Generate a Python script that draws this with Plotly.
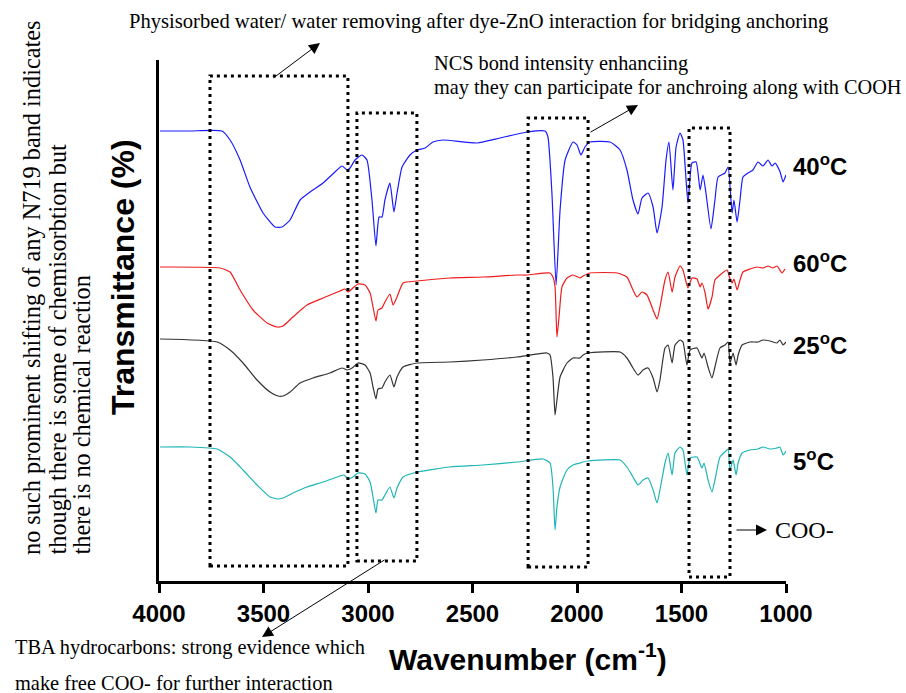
import plotly.graph_objects as go

# ---------------- data ----------------
wn_40 = [3995,3852,3699,3660,3612,3565,3502,3445,3411,3373,3325,3277,3215,3148,3124,3100,3086,3062,3029,3005,
         2981,2962,2947,2933,2919,2895,2876,2861,2837,2799,2765,2727,2689,2641,2478,2368,2239,2153,2139,2120,
         2100,2081,2057,2019,2000,1981,1962,1938,1842,1794,1761,1732,1708,1689,1660,1636,1617,1593,1574,1560,
         1541,1526,1507,1493,1469,1450,1430,1411,1397,1383,1359,1340,1325,1292,1277,1258,1249,1234,1220,1206,
         1182,1158,1134,1110,1086,1067,1052,1028,1014,1000]
t_40 = [450,450,450,441,421,394,368,354,354,361,381,389,398,411,415,411,413,421,426,421,
        381,335,364,364,381,398,369,388,414,426,431,433,439,441,438,443,449,450,444,388,
        296,371,421,439,436,426,434,439,439,431,411,381,367,383,388,374,348,374,421,439,
        391,434,448,441,378,418,419,391,406,388,352,381,404,408,414,368,381,359,381,404,
        408,411,419,415,421,415,418,409,399,406]

wn_60 = [3995,3708,3660,3612,3550,3483,3435,3407,3359,3292,3215,3134,3110,3096,3072,3048,3014,2990,2976,2962,
         2952,2933,2919,2895,2880,2861,2832,2765,2608,2450,2287,2239,2129,2115,2105,2096,2086,2072,2048,2019,
         1986,1971,1938,1808,1761,1732,1713,1689,1665,1636,1617,1603,1579,1564,1545,1531,1507,1493,1469,1450,
         1426,1411,1402,1387,1373,1354,1340,1316,1282,1268,1258,1249,1234,1220,1206,1172,1139,1110,1086,1062,
         1043,1019,1005]
t_60 = [314,313,309,291,271,258,254,255,264,276,283,290,292,289,293,297,296,288,274,260,
        271,273,279,287,276,284,298,300,303,304,306,306,308,304,294,244,264,294,303,306,
        303,305,308,308,304,291,284,289,286,271,262,274,301,309,289,304,315,311,293,303,
        302,294,298,288,272,284,301,306,311,302,298,302,291,301,309,312,314,313,315,313,
        315,308,312]

wn_25 = [3995,3722,3660,3598,3531,3469,3431,3407,3373,3325,3263,3182,3124,3100,3076,3048,3014,2990,2976,2962,
         2952,2933,2919,2895,2876,2861,2832,2765,2608,2450,2287,2144,2129,2115,2105,2096,2081,2048,2019,1986,
         1971,1947,1794,1761,1732,1708,1684,1660,1636,1617,1603,1579,1564,1545,1531,1507,1493,1474,1459,1426,
         1402,1392,1373,1354,1340,1316,1292,1277,1268,1253,1239,1229,1210,1172,1134,1110,1077,1043,1029,1014,
         1000]
t_25 = [242,239,231,218,201,189,185,185,189,198,203,208,213,211,213,218,216,208,194,182,
        192,193,199,206,194,204,214,218,219,221,224,228,226,204,166,181,204,218,223,223,
        226,228,229,223,213,206,211,213,203,189,201,233,236,218,236,241,239,216,231,233,
        223,228,214,203,214,233,236,239,218,228,216,226,236,239,239,241,240,238,241,236,
        239]

wn_5 = [3995,3852,3722,3660,3598,3531,3469,3431,3407,3359,3292,3215,3134,3115,3096,3072,3048,3014,2990,2976,
        2962,2952,2933,2919,2895,2876,2861,2832,2765,2608,2450,2287,2163,2129,2115,2105,2096,2081,2048,2019,
        1986,1971,1947,1794,1761,1732,1708,1684,1660,1636,1617,1603,1579,1564,1545,1531,1507,1493,1474,1459,
        1426,1402,1392,1373,1354,1340,1316,1292,1277,1268,1253,1239,1229,1210,1172,1134,1110,1077,1043,1029,
        1014,1000]
t_5 = [134,134,132,124,111,96,84,82,83,88,94,99,105,106,102,104,108,107,99,84,
       68,81,81,86,94,83,93,104,109,114,116,119,122,118,94,51,74,94,111,116,
       118,119,120,121,114,104,96,101,103,91,78,91,118,128,106,128,134,131,106,123,
       124,113,118,101,89,101,124,129,132,111,121,106,118,128,131,132,134,132,133,134,
       126,130]

series_names = ["40<sup>o</sup>C", "60<sup>o</sup>C", "25<sup>o</sup>C", "5<sup>o</sup>C"]
series_wn = [wn_40, wn_60, wn_25, wn_5]
series_t = [t_40, t_60, t_25, t_5]
series_colors = ["#1a1aff", "#f01c1c", "#333333", "#1fb5b5"]

# highlighted wavenumber windows (dotted boxes)
box_x0 = [3756, 3053, 2234, 1464]
box_x1 = [3096, 2766, 1947, 1268]
box_top = [505, 468, 463, 453]
box_bot = [15, 20, 14, 4]

x_ticks = [4000, 3500, 3000, 2500, 2000, 1500, 1000]

SERIF = "Liberation Serif, Times New Roman, serif"
SANS = "Liberation Sans, Arial, sans-serif"

fig = go.Figure()
for name, wn, t, c in zip(series_names, series_wn, series_t, series_colors):
    fig.add_trace(go.Scatter(x=wn, y=t, mode="lines", name=name,
                             line=dict(color=c, width=1.2, shape="spline", smoothing=0.5),
                             showlegend=False, hoverinfo="skip"))

for x0, x1, yt, yb in zip(box_x0, box_x1, box_top, box_bot):
    fig.add_shape(type="rect", xref="x", yref="y", x0=x0, x1=x1, y0=yb, y1=yt,
                  line=dict(color="black", width=3, dash="3px,4px"))

W, H = 906, 693
L, R, T, B = 159, 120, 60, 112
PW, PH = W - L - R, H - T - B

def px(x):
    return (x - L) / PW

def py(y):
    return (H - B - y) / PH

ann = []
def text(s, x, y, size, font=SERIF, xanchor="left", yanchor="middle", angle=0, color="black"):
    ann.append(dict(text=s, x=px(x), y=py(y), xref="paper", yref="paper", showarrow=False,
                    xanchor=xanchor, yanchor=yanchor, textangle=angle,
                    font=dict(family=font, size=size, color=color)))

def arrow(tipx, tipy, tailx, taily):
    ann.append(dict(text="", x=px(tipx), y=py(tipy), xref="paper", yref="paper", showarrow=True,
                    ax=tailx - tipx, ay=taily - tipy, arrowhead=2, arrowsize=2.2, arrowwidth=1,
                    arrowcolor="black", standoff=0, startstandoff=0))

text("Physisorbed water/ water removing after dye-ZnO interaction for bridging anchoring", 127, 22, 20.6)
text("NCS bond intensity enhanciing", 432, 63, 20.3)
text("may they can participate for anchroing along with COOH", 432, 87, 20.3)
text("COO-", 773, 530, 24)
text("TBA hydrocarbons: strong evidence which", 13, 647, 20.4)
text("make free COO- for further interaction", 13, 683, 20.4)
text("no such prominent shifting of any N719 band indicates", 31, 557, 24.3, xanchor="center", yanchor="bottom", angle=-90)
text("though there is some of chemisorbtion but", 57, 557, 24.3, xanchor="center", yanchor="bottom", angle=-90)
text("there is no chemical reaction", 81, 557, 24.3, xanchor="center", yanchor="bottom", angle=-90)
text("<b>Transmittance (%)</b>", 123, 277, 32, font=SANS, xanchor="center", yanchor="middle", angle=-90)
text("<b>Wavenumber (cm<sup>-1</sup>)</b>", 528, 657, 30, font=SANS, xanchor="center", yanchor="middle")

label_y = [165, 262, 344, 460]
for name, ly in zip(series_names, label_y):
    text("<b>" + name + "</b>", 791, ly, 24, font=SANS)

arrow(320, 43, 272, 79)
arrow(638, 105, 589, 133)
arrow(262, 637, 386, 559)
arrow(767, 530, 735, 530)

fig.update_layout(
    width=W, height=H,
    margin=dict(l=L, r=R, t=T, b=B, pad=0),
    paper_bgcolor="white", plot_bgcolor="white",
    annotations=ann,
    xaxis=dict(range=[4000, 1000], tickvals=x_ticks, ticktext=[str(v) for v in x_ticks],
               showgrid=False, zeroline=False, showline=True, linecolor="black", linewidth=3,
               ticks="outside", ticklen=9, tickwidth=3, tickcolor="black",
               tickfont=dict(family=SANS, size=24, color="black", weight="bold")),
    yaxis=dict(range=[0, 521], showticklabels=False, showgrid=False, zeroline=False,
               showline=True, linecolor="black", linewidth=3, ticks=""),
)

fig.write_html("out.html")
